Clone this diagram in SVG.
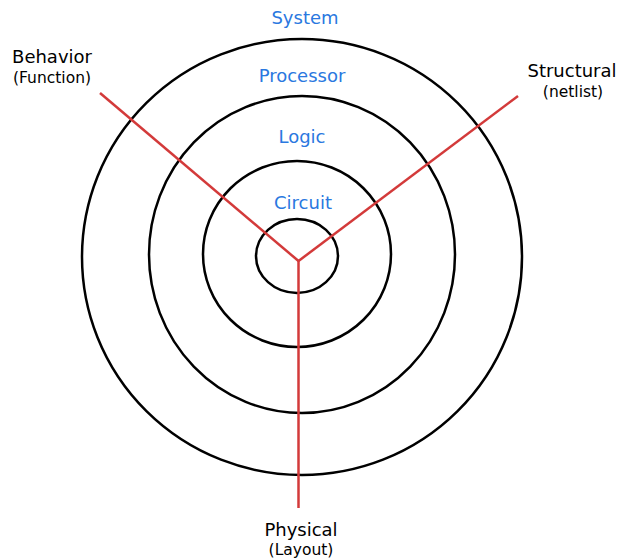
<svg xmlns="http://www.w3.org/2000/svg" width="619" height="560" viewBox="0 0 619 560">
<style>
.ring{fill:none;stroke:#000;stroke-width:2.5}
.axis{fill:none;stroke:#d33a3a;stroke-width:2.5}
.lvl{font-family:"DejaVu Sans",sans-serif;font-size:18px;fill:#2a78e0;text-anchor:middle}
.t{font-family:"DejaVu Sans",sans-serif;font-size:18px;fill:#000;text-anchor:middle}
.s{font-family:"DejaVu Sans",sans-serif;font-size:15.5px;fill:#000;text-anchor:middle}
</style>
<rect width="619" height="560" fill="#fff"/>
<g id="rings">
<ellipse id="system-ring" class="ring" cx="302" cy="257" rx="220" ry="218"/>
<ellipse id="processor-ring" class="ring" cx="302" cy="254.5" rx="153" ry="158.5"/>
<ellipse id="logic-ring" class="ring" cx="297" cy="254" rx="94" ry="93"/>
<ellipse id="circuit-ring" class="ring" cx="297" cy="256" rx="41" ry="37"/>
</g>
<g id="connectors">
<line class="axis" x1="298.5" y1="261" x2="100" y2="93"/>
<line class="axis" x1="298.5" y1="261" x2="518" y2="96"/>
<line class="axis" x1="298.5" y1="261" x2="298.5" y2="508"/>
</g>
<g id="levels">
<text class="lvl" x="305" y="24">System</text>
<text class="lvl" x="302" y="82">Processor</text>
<text class="lvl" x="302" y="143">Logic</text>
<text class="lvl" x="303" y="209">Circuit</text>
</g>
<g id="behavior">
<text class="t" x="52" y="63">Behavior</text>
<text class="s" x="52" y="83">(Function)</text>
</g>
<g id="structural">
<text class="t" x="572" y="77">Structural</text>
<text class="s" x="573" y="97">(netlist)</text>
</g>
<g id="physical">
<text class="t" x="301" y="536">Physical</text>
<text class="s" x="301" y="555">(Layout)</text>
</g>
</svg>
